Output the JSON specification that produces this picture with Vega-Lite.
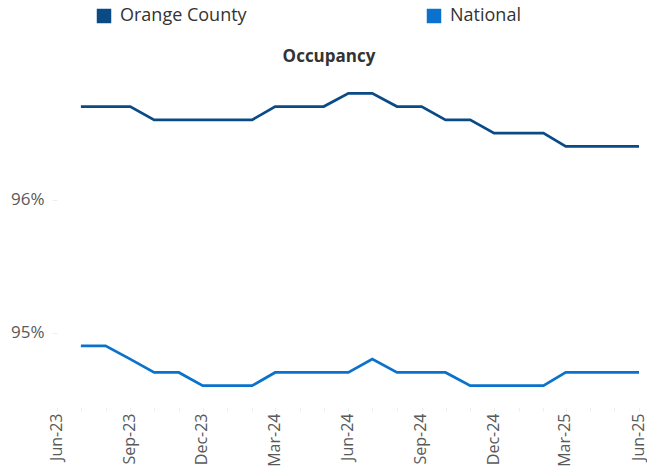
{
  "$schema": "https://vega.github.io/schema/vega-lite/v6.json",
  "width": 582,
  "height": 327,
  "autosize": {"type": "none"},
  "padding": {"left": 57, "top": 80, "right": 8, "bottom": 66},
  "background": "white",
  "config": {
    "font": "Open Sans",
    "view": {"stroke": null}
  },
  "title": {
    "text": "Occupancy",
    "font": "Open Sans",
    "fontSize": 17,
    "fontWeight": "bold",
    "color": "#333333",
    "anchor": "middle",
    "dx": -19,
    "offset": -59
  },
  "data": {
    "values": [
      {"date": "2023-07-01", "series": "Orange County", "value": 96.7},
      {"date": "2023-08-01", "series": "Orange County", "value": 96.7},
      {"date": "2023-09-01", "series": "Orange County", "value": 96.7},
      {"date": "2023-10-01", "series": "Orange County", "value": 96.6},
      {"date": "2023-11-01", "series": "Orange County", "value": 96.6},
      {"date": "2023-12-01", "series": "Orange County", "value": 96.6},
      {"date": "2024-01-01", "series": "Orange County", "value": 96.6},
      {"date": "2024-02-01", "series": "Orange County", "value": 96.6},
      {"date": "2024-03-01", "series": "Orange County", "value": 96.7},
      {"date": "2024-04-01", "series": "Orange County", "value": 96.7},
      {"date": "2024-05-01", "series": "Orange County", "value": 96.7},
      {"date": "2024-06-01", "series": "Orange County", "value": 96.8},
      {"date": "2024-07-01", "series": "Orange County", "value": 96.8},
      {"date": "2024-08-01", "series": "Orange County", "value": 96.7},
      {"date": "2024-09-01", "series": "Orange County", "value": 96.7},
      {"date": "2024-10-01", "series": "Orange County", "value": 96.6},
      {"date": "2024-11-01", "series": "Orange County", "value": 96.6},
      {"date": "2024-12-01", "series": "Orange County", "value": 96.5},
      {"date": "2025-01-01", "series": "Orange County", "value": 96.5},
      {"date": "2025-02-01", "series": "Orange County", "value": 96.5},
      {"date": "2025-03-01", "series": "Orange County", "value": 96.4},
      {"date": "2025-04-01", "series": "Orange County", "value": 96.4},
      {"date": "2025-05-01", "series": "Orange County", "value": 96.4},
      {"date": "2025-06-01", "series": "Orange County", "value": 96.4},
      {"date": "2023-07-01", "series": "National", "value": 94.9},
      {"date": "2023-08-01", "series": "National", "value": 94.9},
      {"date": "2023-09-01", "series": "National", "value": 94.8},
      {"date": "2023-10-01", "series": "National", "value": 94.7},
      {"date": "2023-11-01", "series": "National", "value": 94.7},
      {"date": "2023-12-01", "series": "National", "value": 94.6},
      {"date": "2024-01-01", "series": "National", "value": 94.6},
      {"date": "2024-02-01", "series": "National", "value": 94.6},
      {"date": "2024-03-01", "series": "National", "value": 94.7},
      {"date": "2024-04-01", "series": "National", "value": 94.7},
      {"date": "2024-05-01", "series": "National", "value": 94.7},
      {"date": "2024-06-01", "series": "National", "value": 94.7},
      {"date": "2024-07-01", "series": "National", "value": 94.8},
      {"date": "2024-08-01", "series": "National", "value": 94.7},
      {"date": "2024-09-01", "series": "National", "value": 94.7},
      {"date": "2024-10-01", "series": "National", "value": 94.7},
      {"date": "2024-11-01", "series": "National", "value": 94.6},
      {"date": "2024-12-01", "series": "National", "value": 94.6},
      {"date": "2025-01-01", "series": "National", "value": 94.6},
      {"date": "2025-02-01", "series": "National", "value": 94.6},
      {"date": "2025-03-01", "series": "National", "value": 94.7},
      {"date": "2025-04-01", "series": "National", "value": 94.7},
      {"date": "2025-05-01", "series": "National", "value": 94.7},
      {"date": "2025-06-01", "series": "National", "value": 94.7}
    ]
  },
  "mark": {"type": "line", "strokeWidth": 2.75, "strokeJoin": "miter"},
  "encoding": {
    "x": {
      "field": "date",
      "type": "temporal",
      "scale": {
        "type": "utc",
        "domain": [
          {"year": 2023, "month": "jun", "date": 1, "utc": true},
          {"year": 2025, "month": "jun", "date": 1, "utc": true}
        ]
      },
      "axis": {
        "title": null,
        "grid": false,
        "domain": false,
        "tickCount": {"interval": "month", "step": 1},
        "ticks": true,
        "tickSize": 4,
        "tickColor": "#eeeeee",
        "labelAngle": -90,
        "labelExpr": "utcmonth(datum.value) % 3 == 2 ? utcFormat(datum.value, '%b-%y') : ''",
        "labelFont": "Open Sans",
        "labelFontSize": 16,
        "labelColor": "#595959",
        "labelPadding": 2,
        "labelOffset": -1,
        "labelOverlap": false,
        "labelBound": false,
        "labelFlush": false
      }
    },
    "y": {
      "field": "value",
      "type": "quantitative",
      "scale": {"domain": [94.44, 96.9], "zero": false, "nice": false},
      "axis": {
        "title": null,
        "grid": false,
        "domain": false,
        "values": [95, 96],
        "labelExpr": "datum.value + '%'",
        "ticks": true,
        "tickSize": 5,
        "tickColor": "#eeeeee",
        "labelFont": "Open Sans",
        "labelFontSize": 17,
        "labelColor": "#595959",
        "labelPadding": 8
      }
    },
    "color": {
      "field": "series",
      "type": "nominal",
      "scale": {"domain": ["Orange County", "National"], "range": ["#0A4B86", "#0A72CC"]},
      "legend": {
        "title": null,
        "orient": "none",
        "legendX": 38,
        "legendY": -73,
        "direction": "horizontal",
        "columns": 2,
        "columnPadding": 178,
        "symbolType": "square",
        "symbolSize": 210,
        "symbolOpacity": 1,
        "labelFont": "Open Sans",
        "labelFontSize": 18,
        "labelColor": "#333333",
        "labelOffset": 7,
        "labelLimit": 300,
        "encode": {
          "symbols": {
            "update": {
              "fill": {"scale": "color", "field": "value"},
              "stroke": {"value": "transparent"},
              "strokeWidth": {"value": 0}
            }
          }
        }
      }
    }
  }
}
